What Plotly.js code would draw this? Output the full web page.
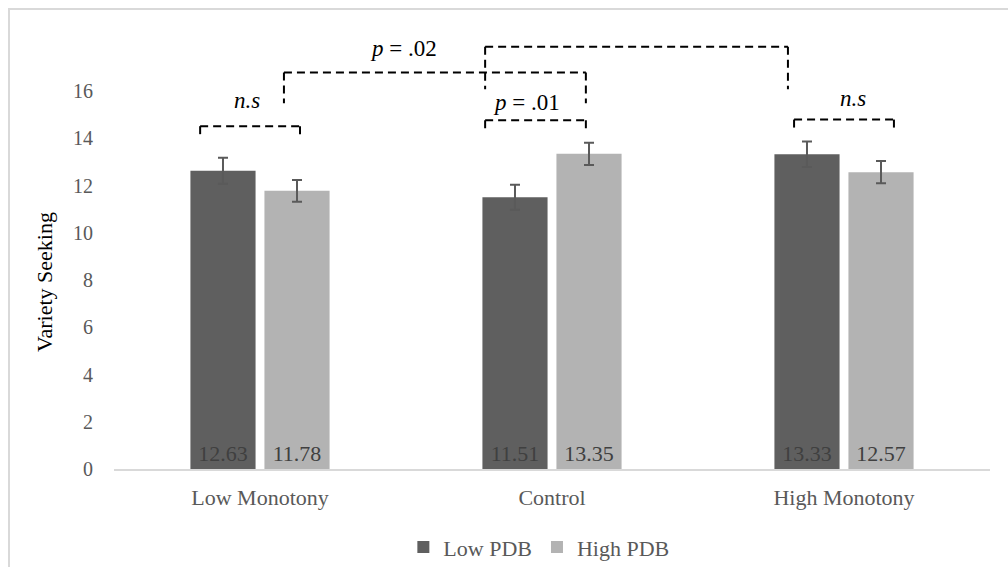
<!DOCTYPE html>
<html>
<head>
<meta charset="utf-8">
<script src="https://cdn.plot.ly/plotly-3.0.1.min.js"></script>
<style>
html,body{margin:0;padding:0;background:#fff;}
#wrap{position:relative;width:1008px;height:567px;overflow:hidden;}
#chart{position:absolute;left:0;top:0;width:1008px;height:567px;}
#frame{position:absolute;left:8px;top:8px;width:1010px;height:580px;border:2px solid #d9d9d9;box-sizing:border-box;pointer-events:none;}
</style>
</head>
<body>
<div id="wrap"><div id="chart"></div><div id="frame"></div></div>
<script>
const categories = ["Low Monotony", "Control", "High Monotony"];
const lowPDB = [12.63, 11.51, 13.33];
const highPDB = [11.78, 13.35, 12.57];
const lowPDBErr = [0.55, 0.53, 0.54];
const highPDBErr = [0.46, 0.47, 0.47];
const seriesNames = ["Low PDB", "High PDB"];
const yTicks = [0, 2, 4, 6, 8, 10, 12, 14, 16];
const axisTitle = "Variety Seeking";

// significance brackets (layout annotations)
const brackets = [
  {x0: -0.205, x1: 0.137, y: 14.52, yl: 14.1, yr: 14.1, label: "<i>n.s</i>", lx: -0.045, ly: 15.62},
  {x0: 0.082, x1: 1.116, y: 16.79, yl: 15.49, yr: 15.49, label: "<i>p</i> = .02", lx: 0.49, ly: 17.82},
  {x0: 0.771, x1: 1.116, y: 14.77, yl: 14.35, yr: 14.35, label: "<i>p</i> = .01", lx: 0.914, ly: 15.53},
  {x0: 0.771, x1: 1.808, y: 17.88, yl: 16.08, yr: 16.08, label: "<i>p</i> = .02", lx: 1.36, ly: 18.5},
  {x0: 1.829, x1: 2.171, y: 14.80, yl: 14.39, yr: 14.39, label: "<i>n.s</i>", lx: 2.03, ly: 15.70}
];

const FONT = "'Liberation Serif', 'Times New Roman', serif";
const darkC = "#5f5f5f", lightC = "#b3b3b3";

function fmt(v){ return v.toFixed(2); }

const traces = [
  {type: "bar", name: seriesNames[0], x: categories, y: lowPDB,
   marker: {color: darkC},
   error_y: {type: "data", array: lowPDBErr, visible: true, color: "#5a5a5a", thickness: 2, width: 5},
   text: lowPDB.map(fmt), textposition: "inside", insidetextanchor: "start",
   textfont: {family: FONT, size: 22, color: "#404040"}, textangle: 0, hoverinfo: "none"},
  {type: "bar", name: seriesNames[1], x: categories, y: highPDB,
   marker: {color: lightC},
   error_y: {type: "data", array: highPDBErr, visible: true, color: "#5a5a5a", thickness: 2, width: 5},
   text: highPDB.map(fmt), textposition: "inside", insidetextanchor: "start",
   textfont: {family: FONT, size: 22, color: "#404040"}, textangle: 0, hoverinfo: "none"}
];

const shapes = [];
const annotations = [];
const dashLine = {color: "#000", width: 2, dash: "8px,5px"};
brackets.forEach(b => {
  shapes.push({type: "line", xref: "x", yref: "y", x0: b.x0, x1: b.x1, y0: b.y, y1: b.y, line: dashLine});
  shapes.push({type: "line", xref: "x", yref: "y", x0: b.x0, x1: b.x0, y0: b.y, y1: b.yl, line: dashLine});
  shapes.push({type: "line", xref: "x", yref: "y", x0: b.x1, x1: b.x1, y0: b.y, y1: b.yr, line: dashLine});
  annotations.push({xref: "x", yref: "y", x: b.lx, y: b.ly, text: b.label, showarrow: false,
    font: {family: FONT, size: 23, color: "#000"}, xanchor: "center", yanchor: "middle"});
});
annotations.push({xref: "paper", yref: "paper", x: -0.08, y: 0.44, text: axisTitle, showarrow: false,
  textangle: -90, font: {family: FONT, size: 22, color: "#000"}, xanchor: "center", yanchor: "middle"});

const layout = {
  width: 1008, height: 567,
  margin: {l: 114, r: 18, t: 44, b: 98},
  paper_bgcolor: "#fff", plot_bgcolor: "#fff",
  barmode: "group", bargap: 0.493, bargroupgap: 0.12,
  showlegend: true,
  legend: {orientation: "h", x: 0.485, xanchor: "center", yref: "container", y: 0.035, yanchor: "middle",
    font: {family: FONT, size: 22, color: "#595959"}, itemwidth: 30, traceorder: "normal", tracegroupgap: 0},
  xaxis: {type: "category", range: [-0.5, 2.5], showline: true, linecolor: "#d9d9d9", linewidth: 2,
    ticks: "", showgrid: false, zeroline: false, automargin: false,
    tickfont: {family: FONT, size: 22, color: "#595959"}, ticklabelstandoff: 8},
  yaxis: {range: [0, 18], tickvals: yTicks, ticktext: yTicks.map(String), showgrid: false,
    zeroline: false, showline: false, ticks: "", automargin: false,
    tickfont: {family: FONT, size: 20, color: "#595959"}, ticklabelstandoff: 20},
  shapes: shapes,
  annotations: annotations,
  font: {family: FONT}
};

Plotly.newPlot("chart", traces, layout, {staticPlot: true, displayModeBar: false});
</script>
</body>
</html>
